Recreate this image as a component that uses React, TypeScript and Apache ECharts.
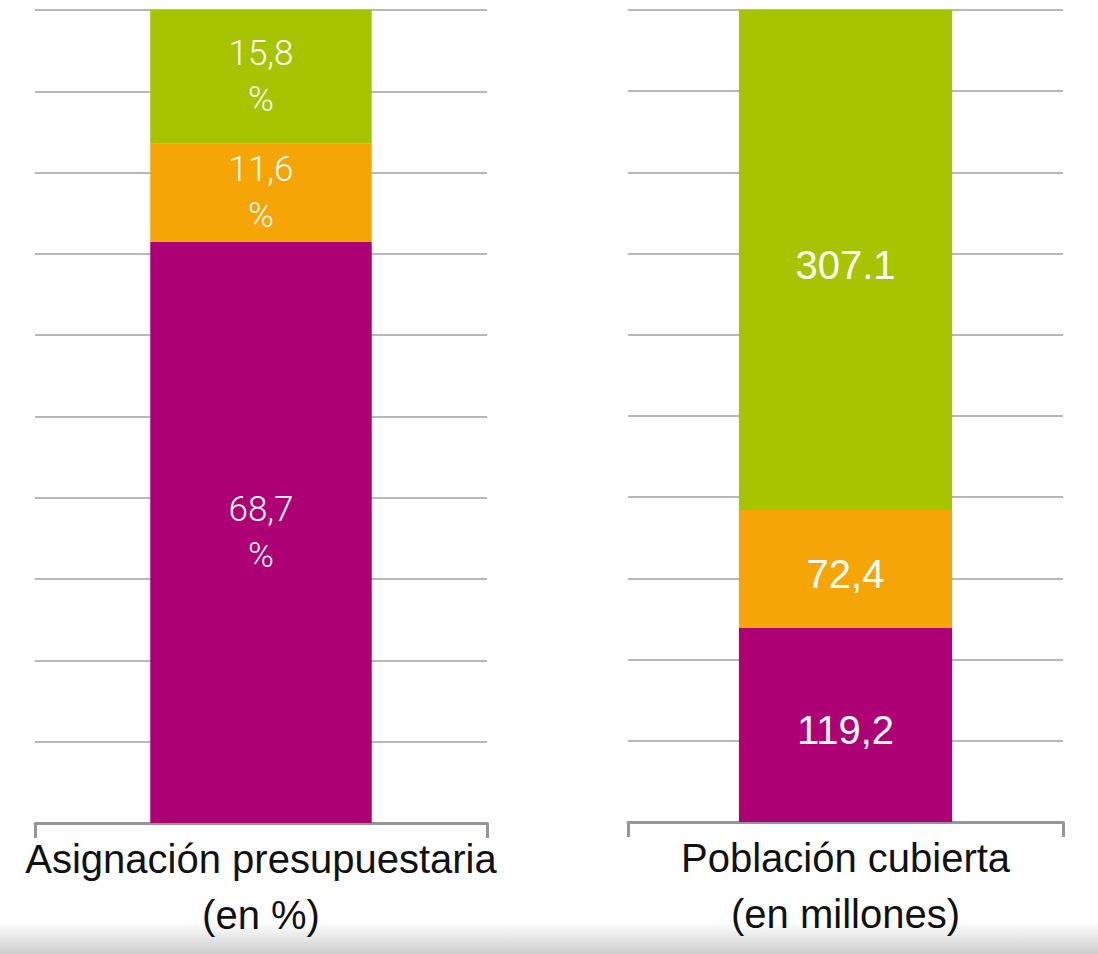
import React, { useEffect, useRef } from "react";
import * as echarts from "echarts";

const leftCategory = ["Asignación presupuestaria\n(en %)"];
const rightCategory = ["Población cubierta\n(en millones)"];
const seriesNames = ["Grupo 1", "Grupo 2", "Grupo 3"];
const colors = ["#AD0075", "#F5A506", "#A6C400"];
const leftValues = [68.7, 11.6, 15.8];
const leftLabels = ["68,7\n%", "11,6\n%", "15,8\n%"];
const rightValues = [119.2, 72.4, 307.1];
const rightLabels = ["119,2", "72,4", "307.1"];

export default function App() {
  const ref = useRef<HTMLDivElement>(null);
  useEffect(() => {
    document.body.style.margin = "0";
    const chart = echarts.init(ref.current!, null, { renderer: "svg" });
    const leftMax = leftValues.reduce((a, b) => a + b, 0);
    const rightMax = rightValues.reduce((a, b) => a + b, 0);
    const xAxisCommon = {
      type: "category" as const,
      boundaryGap: true,
      axisLine: { lineStyle: { color: "#969696", width: 3 } },
      axisTick: { show: true, length: 15, lineStyle: { color: "#969696", width: 3 } },
      axisLabel: {
        color: "#111",
        fontFamily: "Liberation Sans, Arial, sans-serif",
        fontSize: 40,
        lineHeight: 56,
        margin: 8,
      },
    };
    const yAxisCommon = {
      type: "value" as const,
      min: 0,
      axisLabel: { show: false },
      axisLine: { show: false },
      axisTick: { show: false },
      splitLine: { lineStyle: { color: "#b8b8b8", width: 2 } },
    };
    const series: any[] = [];
    seriesNames.forEach((name, i) => {
      series.push({
        name,
        type: "bar",
        stack: "left",
        xAxisIndex: 0,
        yAxisIndex: 0,
        barWidth: "49%",
        itemStyle: { color: colors[i] },
        label: {
          show: true,
          position: "inside",
          formatter: () => leftLabels[i],
          color: "#fff",
          fontFamily: "Roboto, Liberation Sans, sans-serif",
          fontWeight: 300,
          fontSize: 35,
          lineHeight: 46,
        },
        data: [leftValues[i]],
      });
    });
    seriesNames.forEach((name, i) => {
      series.push({
        name,
        type: "bar",
        stack: "right",
        xAxisIndex: 1,
        yAxisIndex: 1,
        barWidth: "49%",
        itemStyle: { color: colors[i] },
        label: {
          show: true,
          position: "inside",
          formatter: () => rightLabels[i],
          color: "#fff",
          fontFamily: "Liberation Sans, Arial, sans-serif",
          fontSize: 40,
          offset: [0, 5],
        },
        data: [rightValues[i]],
      });
    });
    chart.setOption({
      animation: false,
      backgroundColor: "#fff",
      grid: [
        { left: 35, top: 10, width: 452, height: 813 },
        { left: 628, top: 10, width: 435, height: 812 },
      ],
      xAxis: [
        { ...xAxisCommon, gridIndex: 0, data: leftCategory },
        { ...xAxisCommon, gridIndex: 1, data: rightCategory },
      ],
      yAxis: [
        { ...yAxisCommon, gridIndex: 0, max: leftMax, interval: leftMax / 10 },
        { ...yAxisCommon, gridIndex: 1, max: rightMax, interval: rightMax / 10 },
      ],
      graphic: [
        {
          type: "rect",
          left: 0,
          top: 922,
          z: -1,
          shape: { width: 1098, height: 32 },
          style: {
            fill: new echarts.graphic.LinearGradient(0, 0, 0, 1, [
              { offset: 0, color: "#ffffff" },
              { offset: 1, color: "#cdcdcd" },
            ]),
          },
        },
      ],
      series,
    });
    return () => chart.dispose();
  }, []);
  return (
    <div
      ref={ref}
      style={{ position: "absolute", left: 0, top: 0, width: 1098, height: 954 }}
    />
  );
}
